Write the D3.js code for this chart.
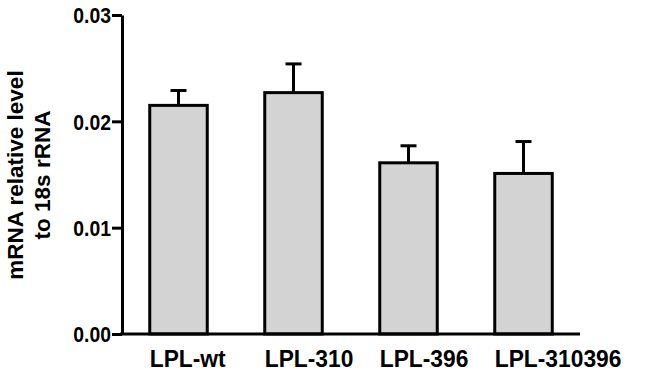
<!DOCTYPE html>
<html>
<head>
<meta charset="utf-8">
<script src="https://cdn.jsdelivr.net/npm/d3@7"></script>
<style>
  body { margin: 0; background: #fff; }
  text { font-family: Arial, "Liberation Sans", sans-serif; font-weight: bold; }
</style>
</head>
<body>
<div id="chart"></div>
<script>
// datos
const groups = ["LPL-wt", "LPL-310", "LPL-396", "LPL-310396"];
const means = [0.0215, 0.0227, 0.0161, 0.0151];
const sems = [0.0014, 0.0027, 0.0016, 0.0030];
const yTicks = [0, 0.01, 0.02, 0.03];

const width = 650, height = 374;
const mLeft = 121, mRight = 581, mTop = 15, mBottom = 334;

// la fuente del original es algo mas estrecha
const squeeze = (sel, k) => {
  sel.each(function() {
    const w = this.getComputedTextLength();
    d3.select(this).attr("textLength", w * k).attr("lengthAdjust", "spacingAndGlyphs");
  });
};

const svg = d3.select("#chart").append("svg")
  .attr("width", width)
  .attr("height", height);

const x = d3.scaleBand()
  .domain(groups)
  .range([mLeft, mRight])
  .paddingInner(0.5)
  .paddingOuter(0.25);

const y = d3.scaleLinear()
  .domain([0, 0.03])
  .range([mBottom, mTop]);

const data = groups.map((g, i) => ({ g: g, m: means[i], s: sems[i] }));

// barras de error (solo hacia arriba)
const err = svg.append("g").selectAll("g")
  .data(data)
  .enter().append("g");

err.append("line")
  .attr("x1", d => x(d.g) + x.bandwidth() / 2)
  .attr("x2", d => x(d.g) + x.bandwidth() / 2)
  .attr("y1", d => y(d.m))
  .attr("y2", d => y(d.m + d.s))
  .style("stroke", "#000")
  .style("stroke-width", 3);

err.append("line")
  .attr("x1", d => x(d.g) + x.bandwidth() / 2 - 8)
  .attr("x2", d => x(d.g) + x.bandwidth() / 2 + 8)
  .attr("y1", d => y(d.m + d.s))
  .attr("y2", d => y(d.m + d.s))
  .style("stroke", "#000")
  .style("stroke-width", 3);

// barras
svg.append("g").selectAll("rect")
  .data(data)
  .enter().append("rect")
  .attr("x", d => x(d.g))
  .attr("y", d => y(d.m))
  .attr("width", x.bandwidth())
  .attr("height", d => y(0) - y(d.m))
  .style("fill", "#d3d3d3")
  .style("stroke", "#000")
  .style("stroke-width", 3);

// eje y
const yAxis = svg.append("g")
  .attr("transform", "translate(" + (mLeft + 1) + ",0)")
  .call(d3.axisLeft(y).tickValues(yTicks).tickFormat(d3.format(".2f")).tickSize(10).tickPadding(1).tickSizeOuter(0));
yAxis.select(".domain").style("stroke-width", 3);
yAxis.selectAll(".tick line").style("stroke-width", 3);
yAxis.selectAll(".tick text").style("font-size", "21.5px").attr("dy", "0.36em");
squeeze(yAxis.selectAll(".tick text"), 0.9);

// eje x (sin marcas)
svg.append("line")
  .attr("x1", mLeft - 1)
  .attr("x2", mRight - 1)
  .attr("y1", y(0))
  .attr("y2", y(0))
  .style("stroke", "#000")
  .style("stroke-width", 3);

const xl = svg.append("g").selectAll("text")
  .data(groups)
  .enter().append("text")
  .attr("x", d => x(d))
  .attr("y", 366.5)
  .style("font-size", "24.5px")
  .text(d => d);
squeeze(xl, 0.93);

// titulo del eje y
const yt = svg.append("text")
  .attr("transform", "translate(23,175) rotate(-90)")
  .attr("text-anchor", "middle")
  .style("font-size", "22.5px");
yt.append("tspan").attr("x", 0).attr("y", 0).text("mRNA relative level");
yt.append("tspan").attr("x", 0).attr("y", 27).text("to 18s rRNA");
</script>
</body>
</html>
